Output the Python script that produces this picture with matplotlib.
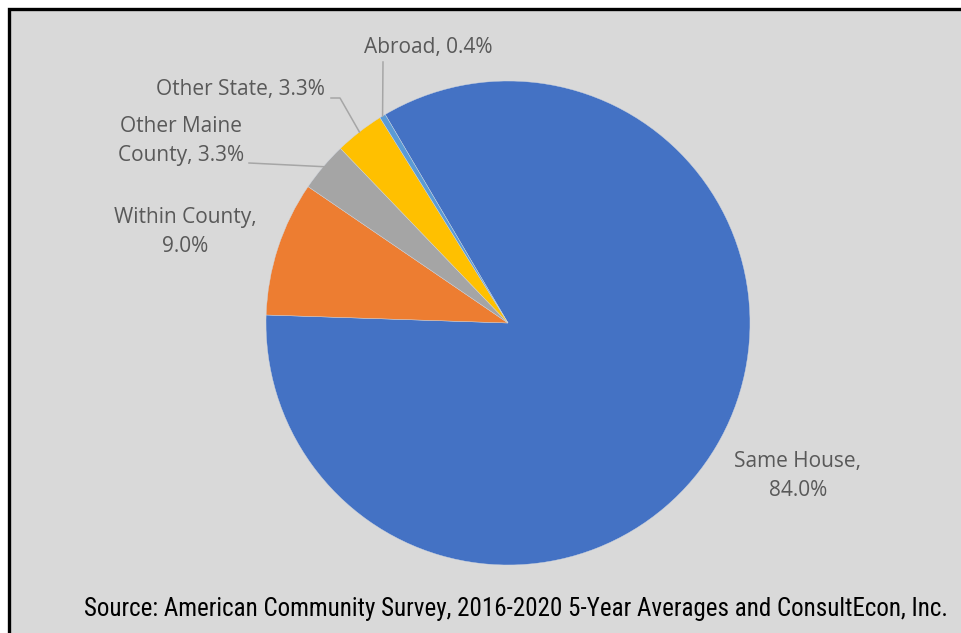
import numpy as np
import matplotlib.pyplot as plt
from matplotlib.patches import Rectangle
from matplotlib.lines import Line2D

# Residence one year ago
names = ["Same House", "Within County", "Other Maine County", "Other State", "Abroad"]
shares = [84.0, 9.0, 3.3, 3.3, 0.4]
label_text = ["Same House,\n84.0%", "Within County,\n9.0%", "Other Maine\nCounty, 3.3%",
              "Other State, 3.3%", "Abroad, 0.4%"]
colors = ["#4472C4", "#ED7D31", "#A5A5A5", "#FFC000", "#5B9BD5"]
source = "Source: American Community Survey, 2016-2020 5-Year Averages and ConsultEcon, Inc."

W, H = 961, 633
fig = plt.figure(figsize=(W / 100, H / 100), dpi=100)
fig.patch.set_facecolor("white")

# gray chart area with black frame (left/top)
fig.patches.append(Rectangle((8.5 / W, -0.05), 1.1, (H - 8.5) / H + 0.05,
                             transform=fig.transFigure, facecolor="#D9D9D9",
                             edgecolor="black", linewidth=2.4, zorder=-5))

cx, cy, r = 508, 323, 242
ax = fig.add_axes([(cx - r) / W, (H - cy - r) / H, 2 * r / W, 2 * r / H])
ax.set_zorder(2)

wedges, _ = ax.pie(shares, colors=colors, startangle=120.5, counterclock=False,
                   radius=1, wedgeprops=dict(linewidth=0.3, edgecolor="#D0D6E0"))
ax.set_xlim(-1, 1)
ax.set_ylim(-1, 1)
ax.set_aspect("equal")
ax.axis("off")


def px(x, y):
    # pixel position -> pie data coords
    return (x - cx) / r, (cy - y) / r


def edge(w):
    a = np.deg2rad((w.theta1 + w.theta2) / 2)
    return np.cos(a), np.sin(a)


txt = dict(color="#595959", fontsize=15, family=["Open Sans", "DejaVu Sans"],
           ha="center", va="center", linespacing=1.45)

label_pos = [(798, 476), (185, 232), (181, 141), (240, 90), (428, 47)]
for lab, (x, y) in zip(label_text, label_pos):
    ax.text(*px(x, y), lab, clip_on=False, **txt)

# leader lines
lc = dict(color="#A6A6A6", linewidth=1.1, clip_on=False)
ex, ey = edge(wedges[4])
ax.add_line(Line2D([px(383, 62)[0], ex], [px(383, 62)[1], ey], **lc))
ex, ey = edge(wedges[3])
p1, p2 = px(331, 98), px(340, 98)
ax.add_line(Line2D([p1[0], p2[0], ex], [p1[1], p2[1], ey], **lc))
ex, ey = edge(wedges[2])
p1 = px(249, 163)
ax.add_line(Line2D([p1[0], ex], [p1[1], ey], **lc))

fig.text(516 / W, 1 - 609 / H, source, ha="center", va="center", color="black",
         fontsize=18, family=["Roboto Condensed", "DejaVu Sans"])

fig.savefig("out.png", dpi=100)
